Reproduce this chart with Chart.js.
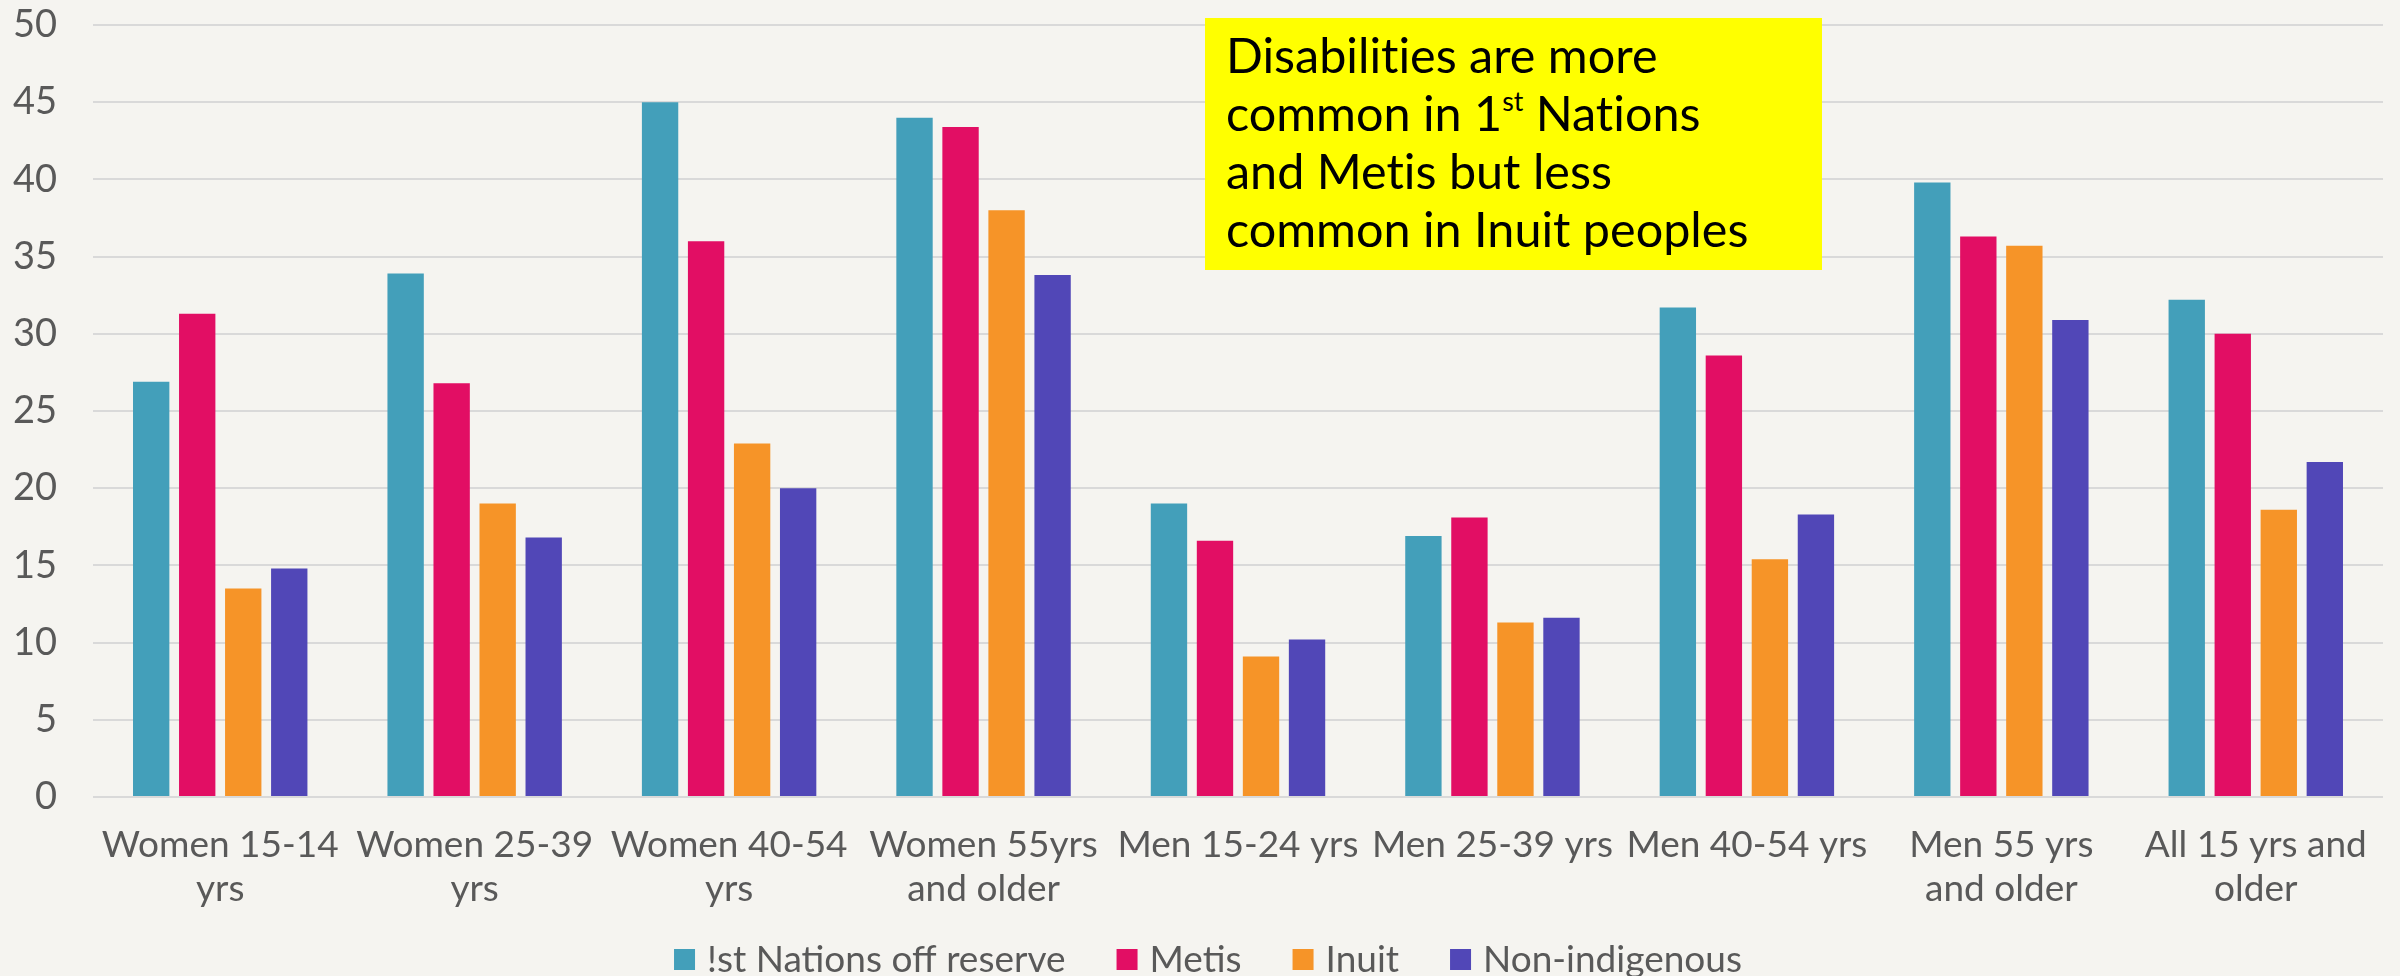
<!DOCTYPE html>
<html>
<head>
<meta charset="utf-8">
<script src="https://cdn.jsdelivr.net/npm/chart.js@4/dist/chart.umd.min.js"></script>
<style>
  html, body { margin: 0; padding: 0; background: #F5F4F0; }
  #wrap { position: relative; width: 2400px; height: 976px; }
  #note {
    position: absolute; left: 1205px; top: 18px; width: 617px; height: 252px;
    box-sizing: border-box; padding: 7px 0 0 21px;
    background: #FFFF00; color: #000;
    font-family: Lato, sans-serif; font-size: 48.5px; line-height: 58px;
    font-variant-ligatures: none; font-feature-settings: "liga" 0, "dlig" 0;
    white-space: nowrap;
  }
  #note sup { font-size: 0.55em; line-height: 0; vertical-align: 0.75em; }
</style>
</head>
<body>
<div id="wrap">
  <canvas id="chart" width="2400" height="976"></canvas>
  <div id="note">Disabilities are more<br>common in 1<sup>st</sup> Nations<br>and Metis but less<br>common in Inuit peoples</div>
</div>
<script>
// Share of people reporting a disability, by group and age (%)
const categories = [
  ['Women 15-14', 'yrs'],
  ['Women 25-39', 'yrs'],
  ['Women 40-54', 'yrs'],
  ['Women 55yrs', 'and older'],
  'Men 15-24 yrs',
  'Men 25-39 yrs',
  'Men 40-54 yrs',
  ['Men 55 yrs', 'and older'],
  ['All 15 yrs and', 'older']
];
const seriesNames = ['!st Nations off reserve', 'Metis', 'Inuit', 'Non-indigenous'];
const firstNations  = [26.9, 33.9, 45.0, 44.0, 19.0, 16.9, 31.7, 39.8, 32.2];
const metis         = [31.3, 26.8, 36.0, 43.4, 16.6, 18.1, 28.6, 36.3, 30.0];
const inuit         = [13.5, 19.0, 22.9, 38.0,  9.1, 11.3, 15.4, 35.7, 18.6];
const nonIndigenous = [14.8, 16.8, 20.0, 33.8, 10.2, 11.6, 18.3, 30.9, 21.7];
const yTicks = [0, 5, 10, 15, 20, 25, 30, 35, 40, 45, 50];

const colors = ['#439FBA', '#E20E64', '#F69428', '#5147B7'];
const textColor = '#595959';
const fontFamily = 'Lato, sans-serif';

// Legend drawn along the bottom, one swatch + label per dataset
const bottomLegend = {
  id: 'bottomLegend',
  afterDraw(chart) {
    const ctx = chart.ctx;
    const box = 21, gapText = 12, gapItem = 51, centerY = 959.5;
    ctx.save();
    ctx.font = '37px ' + fontFamily;
    const items = chart.data.datasets.map(ds => ({
      label: ds.label, color: ds.backgroundColor, w: ctx.measureText(ds.label).width
    }));
    const total = items.reduce((s, it) => s + box + gapText + it.w, 0) + gapItem * (items.length - 1);
    let x = 1208 - total / 2;
    ctx.textBaseline = 'middle';
    ctx.textAlign = 'left';
    items.forEach(it => {
      ctx.fillStyle = it.color;
      ctx.fillRect(x, centerY - box / 2, box, box);
      ctx.fillStyle = textColor;
      ctx.fillText(it.label, x + box + gapText, centerY + 1);
      x += box + gapText + it.w + gapItem;
    });
    ctx.restore();
  }
};

const data = {
  labels: categories,
  datasets: [firstNations, metis, inuit, nonIndigenous].map((vals, i) => ({
    label: seriesNames[i],
    data: vals,
    backgroundColor: colors[i],
    borderWidth: 0,
    categoryPercentage: 0.7235,
    barPercentage: 0.79
  }))
};

new Chart(document.getElementById('chart'), {
  type: 'bar',
  data,
  plugins: [bottomLegend],
  options: {
    responsive: false,
    animation: false,
    devicePixelRatio: 1,
    layout: { padding: { left: 0, right: 17, top: 25, bottom: 39 } },
    plugins: {
      legend: { display: false },
      tooltip: { enabled: false }
    },
    scales: {
      x: {
        grid: { display: false, drawTicks: false },
        border: { display: false },
        ticks: {
          color: textColor,
          font: { family: fontFamily, size: 37, lineHeight: 1.19 },
          padding: 26,
          maxRotation: 0,
          minRotation: 0,
          autoSkip: false
        }
      },
      y: {
        min: 0,
        max: 50,
        afterBuildTicks(scale) { scale.ticks = yTicks.map(v => ({ value: v })); },
        afterFit(scale) {
          scale.width = 93;
          scale.paddingTop = 0;
          scale.paddingBottom = 0;
        },
        grid: { color: '#D9D9D9', lineWidth: 2, drawTicks: false },
        border: { display: false },
        ticks: {
          color: textColor,
          font: { family: fontFamily, size: 38 },
          padding: 36
        }
      }
    }
  }
});
</script>
</body>
</html>
